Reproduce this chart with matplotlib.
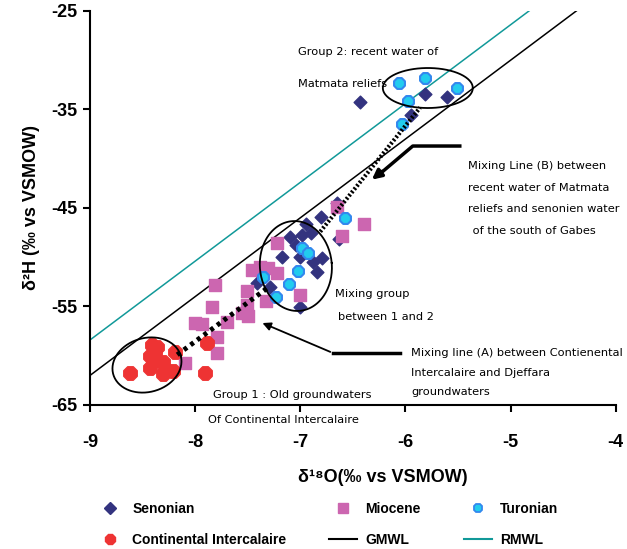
import numpy as np
import matplotlib
matplotlib.use("Agg")
import matplotlib.pyplot as plt
from matplotlib.lines import Line2D

plt.rcParams['font.family'] = ['Liberation Sans', 'DejaVu Sans']
plt.rcParams['axes.unicode_minus'] = False

# delta18O, delta2H
senonian_o = [-6.43, -5.81, -5.60, -5.95, -6.65, -6.80, -6.63, -6.95, -7.10, -6.98,
              -6.90, -7.17, -7.00, -6.88, -6.79, -6.84, -7.41, -7.29, -7.00, -7.04]
senonian_h = [-34.2, -33.4, -33.7, -35.6, -44.5, -45.9, -48.1, -46.6, -47.9, -47.7,
              -47.5, -50.0, -50.0, -50.5, -50.1, -51.5, -52.6, -53.0, -55.1, -48.8]

miocene_o = [-6.65, -6.39, -6.60, -7.22, -7.46, -7.38, -7.31, -7.22, -7.81, -7.51, -7.00,
             -7.33, -7.51, -7.84, -7.55, -8.00, -7.93, -7.70, -7.79, -7.79, -8.10, -7.50]
miocene_h = [-44.9, -46.6, -47.8, -48.6, -51.3, -51.0, -51.1, -51.6, -52.8, -53.4, -53.8,
             -54.4, -54.8, -55.1, -55.7, -56.7, -56.8, -56.6, -58.1, -59.7, -60.7, -56.0]

turonian_o = [-6.06, -5.81, -5.51, -5.98, -6.03, -6.57, -6.98, -6.93, -7.02, -7.11, -7.35, -7.23]
turonian_h = [-32.3, -31.8, -32.8, -34.1, -36.5, -46.0, -49.1, -49.6, -51.4, -52.7, -52.0, -54.0]

ci_o = [-8.62, -8.43, -8.41, -8.36, -8.38, -8.43, -8.38, -8.31, -8.29, -8.21, -8.31, -8.19, -7.89, -7.91]
ci_h = [-61.8, -61.2, -58.9, -59.1, -59.6, -60.0, -60.4, -60.6, -61.4, -61.5, -61.9, -59.6, -58.7, -61.8]

# meteoric water lines: dH = slope * dO + intercept
gmwl = (8.0, 10.0)
rmwl = (8.0, 13.6)

# mixing lines (end points)
mix_a_o = [-8.17, -7.31]
mix_a_h = [-59.9, -53.1]
mix_b_o = [-6.81, -5.86]
mix_b_h = [-47.4, -34.8]

fig = plt.figure(figsize=(6.27, 5.49), dpi=100)
ax = fig.add_axes([0.1435, 0.2623, 0.8385, 0.7177])

xs = np.array([-9.0, -4.0])
ax.plot(xs, gmwl[0] * xs + gmwl[1], color='black', lw=1.1, zorder=2)
ax.plot(xs, rmwl[0] * xs + rmwl[1], color='#119999', lw=1.1, zorder=2)

ax.plot(mix_a_o, mix_a_h, color='black', lw=3.5, ls=(0, (0.8, 0.9)), zorder=6)
ax.plot(mix_b_o, mix_b_h, color='black', lw=3.0, ls=(0, (0.5, 0.5)), zorder=6)

ax.scatter(senonian_o, senonian_h, marker='D', s=42, color='#33337f', zorder=3)
ax.scatter(miocene_o, miocene_h, marker='s', s=66, color='#cc66b0', zorder=4)
ax.scatter(turonian_o, turonian_h, marker='8', s=72, facecolor='#22ccee',
           edgecolor='#3388ee', linewidth=1.5, zorder=5)
ax.scatter(ci_o, ci_h, marker='8', s=110, color='#ee3333', zorder=5)

# ellipses drawn in screen-like proportions
px_x, px_y = 105.2, 9.85


def ellipse(cx, cy, rx, ry, ang):
    t = np.linspace(0, 2 * np.pi, 200)
    a = np.deg2rad(ang)
    ex = rx * np.cos(t) * np.cos(a) - ry * np.sin(t) * np.sin(a)
    ey = rx * np.cos(t) * np.sin(a) + ry * np.sin(t) * np.cos(a)
    ax.plot(cx + ex / px_x, cy + ey / px_y, color='black', lw=1.3, zorder=7)


ellipse(-8.458, -60.94, 35, 27, 15)
ellipse(-7.042, -50.89, 36, 45, 5)
ellipse(-5.787, -32.82, 45, 20, 0)

# annotation arrows
ax.plot([-5.483, -5.93, -6.25], [-38.71, -38.71, -41.6], color='black', lw=2.5, zorder=8)
ax.annotate('', xy=(-6.34, -42.3), xytext=(-6.2, -41.1),
            arrowprops=dict(arrowstyle='-|>', color='black', lw=2.5, mutation_scale=14), zorder=8)
ax.plot([-6.053, -6.69], [-59.72, -59.72], color='black', lw=2.5, zorder=8)
ax.annotate('', xy=(-7.384, -56.57), xytext=(-6.69, -59.72),
            arrowprops=dict(arrowstyle='-|>', color='black', lw=1.3, mutation_scale=12), zorder=8)

tfont = dict(fontsize=8.2, family='DejaVu Sans', va='center', ha='left')
ax.text(-7.02, -29.16, 'Group 2: recent water of', **tfont)
ax.text(-7.02, -32.4, 'Matmata reliefs', **tfont)
ax.text(-5.407, -40.7, 'Mixing Line (B) between', **tfont)
ax.text(-5.407, -43.0, 'recent water of Matmata', **tfont)
ax.text(-5.407, -45.1, 'reliefs and senonien water', **tfont)
ax.text(-5.40, -47.3, ' of the south of Gabes', **tfont)
ax.text(-6.67, -53.7, 'Mixing group', **tfont)
ax.text(-6.64, -56.1, 'between 1 and 2', **tfont)
ax.text(-5.95, -59.7, 'Mixing line (A) between Contienental', **tfont)
ax.text(-5.95, -61.75, 'Intercalaire and Djeffara', **tfont)
ax.text(-5.94, -63.7, 'groundwaters', **tfont)
ax.text(-7.83, -64.0, 'Group 1 : Old groundwaters', **tfont)
ax.text(-7.88, -66.5, 'Of Continental Intercalaire', clip_on=False, **tfont)

ax.set_xlim(-9, -4)
ax.set_ylim(-65, -25)
ax.set_xticks([-9, -8, -7, -6, -5, -4])
ax.set_yticks([-65, -55, -45, -35, -25])
ax.spines['top'].set_visible(False)
ax.spines['right'].set_visible(False)
for s in ['left', 'bottom']:
    ax.spines[s].set_linewidth(1.5)
ax.tick_params(direction='out', length=5, width=1.5, labelsize=13, pad=4)
ax.tick_params(axis='x', pad=16)
for lbl in ax.get_xticklabels() + ax.get_yticklabels():
    lbl.set_fontweight('bold')

fig.text(0.61, 0.13, 'δ¹⁸O(‰ vs VSMOW)', fontsize=13, fontweight='bold',
         ha='center', va='center')
ax.set_ylabel('δ²H (‰ vs VSMOW)', fontsize=13, fontweight='bold', labelpad=8)

handles = [
    Line2D([], [], ls='none', marker='D', ms=6, color='#33337f'),
    Line2D([], [], ls='none', marker='8', ms=8, color='#ee3333'),
    Line2D([], [], ls='none', marker='s', ms=7, color='#cc66b0'),
    Line2D([], [], color='black', lw=1.5),
    Line2D([], [], ls='none', marker='8', ms=7, markerfacecolor='#22ccee',
           markeredgecolor='#3388ee', markeredgewidth=1.3),
    Line2D([], [], color='#119999', lw=1.5),
]
labels = ['Senonian', 'Continental Intercalaire', 'Miocene', 'GMWL', 'Turonian', 'RMWL']
fig.legend(handles, labels, ncol=3, loc='center', bbox_to_anchor=(0.522, 0.045),
           frameon=False, prop=dict(weight='bold', size=10), handlelength=2,
           columnspacing=3.1, labelspacing=1.2, handletextpad=0.6)

fig.savefig('out.png', dpi=100)
